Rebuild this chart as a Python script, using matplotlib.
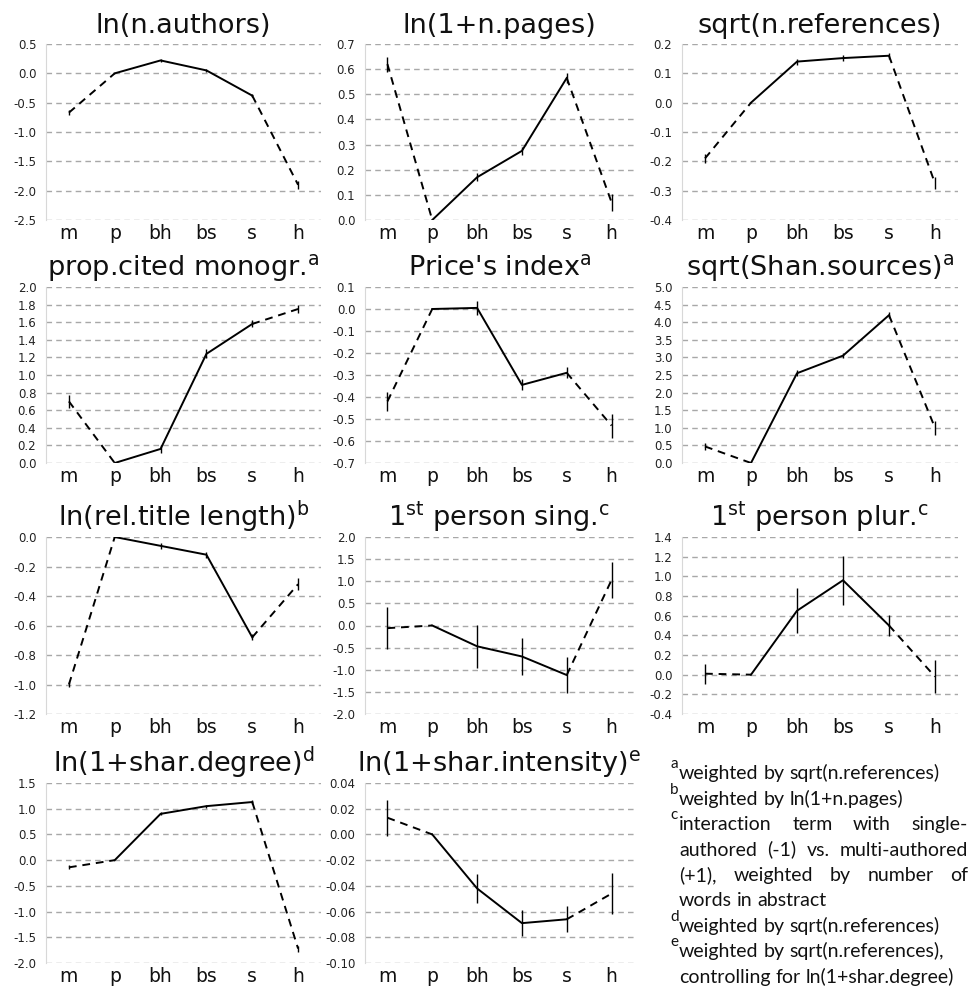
import matplotlib
matplotlib.use("Agg")
import matplotlib.pyplot as plt
import numpy as np

plt.rcParams['font.family'] = ['DejaVu Sans']
plt.rcParams['mathtext.fontset'] = 'custom'
plt.rcParams['mathtext.rm'] = 'DejaVu Sans'
plt.rcParams['mathtext.it'] = 'DejaVu Sans'

categories = ['m', 'p', 'bh', 'bs', 's', 'h']

# values and error half-widths
authors_val = [-0.67, 0.0, 0.22, 0.05, -0.38, -1.90]
authors_err = [0.04, 0.0, 0.02, 0.02, 0.02, 0.07]
pages_val = [0.62, 0.0, 0.17, 0.275, 0.565, 0.07]
pages_err = [0.03, 0.0, 0.015, 0.015, 0.02, 0.035]
refs_val = [-0.19, 0.0, 0.14, 0.152, 0.16, -0.275]
refs_err = [0.015, 0.0, 0.01, 0.01, 0.01, 0.02]
monogr_val = [0.70, 0.0, 0.16, 1.24, 1.58, 1.75]
monogr_err = [0.07, 0.0, 0.05, 0.05, 0.04, 0.04]
price_val = [-0.42, 0.0, 0.005, -0.345, -0.29, -0.53]
price_err = [0.045, 0.0, 0.03, 0.025, 0.025, 0.055]
shan_val = [0.47, 0.0, 2.55, 3.05, 4.2, 1.0]
shan_err = [0.1, 0.0, 0.08, 0.08, 0.08, 0.2]
title_val = [-1.0, 0.0, -0.06, -0.12, -0.68, -0.32]
title_err = [0.02, 0.0, 0.02, 0.02, 0.02, 0.04]
sing_val = [-0.06, 0.0, -0.47, -0.70, -1.12, 1.03]
sing_err = [0.48, 0.0, 0.49, 0.42, 0.40, 0.40]
plur_val = [0.01, 0.0, 0.65, 0.96, 0.50, -0.02]
plur_err = [0.10, 0.0, 0.23, 0.25, 0.11, 0.17]
degree_val = [-0.14, 0.0, 0.90, 1.05, 1.13, -1.72]
degree_err = [0.04, 0.0, 0.03, 0.03, 0.03, 0.06]
intens_val = [0.013, 0.0, -0.042, -0.069, -0.066, -0.046]
intens_err = [0.014, 0.0, 0.011, 0.010, 0.010, 0.016]

titles = [
    'ln(n.authors)', 'ln(1+n.pages)', 'sqrt(n.references)',
    r'prop.cited monogr.$^{\mathrm{a}}$', r"Price's index$^{\mathrm{a}}$",
    r'sqrt(Shan.sources)$^{\mathrm{a}}$',
    r'ln(rel.title length)$^{\mathrm{b}}$', r'1$^{\mathrm{st}}$ person sing.$^{\mathrm{c}}$',
    r'1$^{\mathrm{st}}$ person plur.$^{\mathrm{c}}$',
    r'ln(1+shar.degree)$^{\mathrm{d}}$', r'ln(1+shar.intensity)$^{\mathrm{e}}$',
]
values = [authors_val, pages_val, refs_val, monogr_val, price_val, shan_val,
          title_val, sing_val, plur_val, degree_val, intens_val]
errors = [authors_err, pages_err, refs_err, monogr_err, price_err, shan_err,
          title_err, sing_err, plur_err, degree_err, intens_err]
y_ranges = [(-2.5, 0.5, 0.5), (0.0, 0.7, 0.1), (-0.4, 0.2, 0.1),
            (0.0, 2.0, 0.2), (-0.7, 0.1, 0.1), (0.0, 5.0, 0.5),
            (-1.2, 0.0, 0.2), (-2.0, 2.0, 0.5), (-0.4, 1.4, 0.2),
            (-2.0, 1.5, 0.5), (-0.10, 0.04, 0.02)]
tick_fmt = ['%.1f'] * 10 + ['%.2f']

footnotes = [
    ('a', ['weighted by sqrt(n.references)']),
    ('b', ['weighted by ln(1+n.pages)']),
    ('c', ['interaction term with single-', 'authored (-1) vs. multi-authored',
           '(+1), weighted by number of', 'words in abstract']),
    ('d', ['weighted by sqrt(n.references)']),
    ('e', ['weighted by sqrt(n.references),', 'controlling for ln(1+shar.degree)']),
]

W, H = 972, 992
fig = plt.figure(figsize=(W / 100, H / 100), dpi=100)

# panel boxes in pixels: left, top, right, bottom
col_x = [(46, 321), (365, 634), (682, 958)]
row_y = [(44, 220), (287, 463), (537, 714), (783, 963)]


def add_panel(i):
    r, c = divmod(i, 3)
    x0, x1 = col_x[c]
    y0, y1 = row_y[r]
    ax = fig.add_axes([x0 / W, 1 - y1 / H, (x1 - x0) / W, (y1 - y0) / H])
    x = np.arange(len(categories))
    v = np.array(values[i])
    e = np.array(errors[i])
    lo, hi, step = y_ranges[i]
    ax.set_xlim(-0.5, len(categories) - 0.5)
    ax.set_ylim(lo, hi)
    ticks = np.arange(lo, hi + step / 2, step)
    ax.set_yticks(ticks)
    ax.set_yticklabels([tick_fmt[i] % t if abs(t) > 1e-9 else tick_fmt[i] % 0 for t in ticks])
    ax.set_xticks(x)
    ax.set_xticklabels(categories)
    ax.yaxis.grid(True, linestyle=(0, (4, 3)), color='#a8a8a8', lw=1.0)
    ax.set_axisbelow(True)
    for s in ['top', 'right', 'bottom']:
        ax.spines[s].set_visible(False)
    ax.spines['left'].set_color('#d8d8d8')
    ax.tick_params(axis='y', length=0, pad=7, labelsize=8.5, labelcolor='#222222')
    ax.tick_params(axis='x', length=0, pad=3, labelsize=13.5, labelcolor='#111111')
    # dashed ends, solid middle
    ax.plot(x[0:2], v[0:2], color='black', lw=1.4, ls=(0, (4, 3)))
    ax.plot(x[1:5], v[1:5], color='black', lw=1.4, ls='-')
    ax.plot(x[4:6], v[4:6], color='black', lw=1.4, ls=(0, (4, 3)))
    ax.errorbar(x, v, yerr=e, fmt='none', ecolor='black', elinewidth=1.0, capsize=0)
    ax.set_title(titles[i], fontsize=19.5, pad=8, color='#111111')
    return ax


for i in range(len(titles)):
    add_panel(i)

# footnotes in the last cell
fig.canvas.draw()
renderer = fig.canvas.get_renderer()
fs = 14
note_font = ['Lato', 'DejaVu Sans']
text_x0, text_x1 = 679, 968
baseline = 779
step_y = 25.5


def put_justified(words, y, justify):
    px = text_x0
    objs = []
    widths = []
    for w in words:
        t = fig.text(0, 0, w, fontsize=fs, family=note_font, color='#111111',
                     va='baseline', ha='left')
        objs.append(t)
        widths.append(t.get_window_extent(renderer).width)
    t1 = fig.text(0, 0, 'a b', fontsize=fs, family=note_font)
    t2 = fig.text(0, 0, 'ab', fontsize=fs, family=note_font)
    space = t1.get_window_extent(renderer).width - t2.get_window_extent(renderer).width
    t1.remove()
    t2.remove()
    if justify and len(words) > 1:
        gap = (text_x1 - text_x0 - sum(widths)) / (len(words) - 1)
    else:
        gap = space
    for t, wd in zip(objs, widths):
        t.set_position((px / W, 1 - y / H))
        px += wd + gap


line_no = 0
for letter, lines in footnotes:
    fig.text(670 / W, 1 - (baseline + line_no * step_y - 11) / H, letter,
             fontsize=11, family=note_font, color='#111111', va='baseline', ha='left')
    for k, line in enumerate(lines):
        y = baseline + line_no * step_y
        justify = letter == 'c' and k < len(lines) - 1
        put_justified(line.split(' '), y, justify)
        line_no += 1

fig.savefig('out.png', dpi=100)
